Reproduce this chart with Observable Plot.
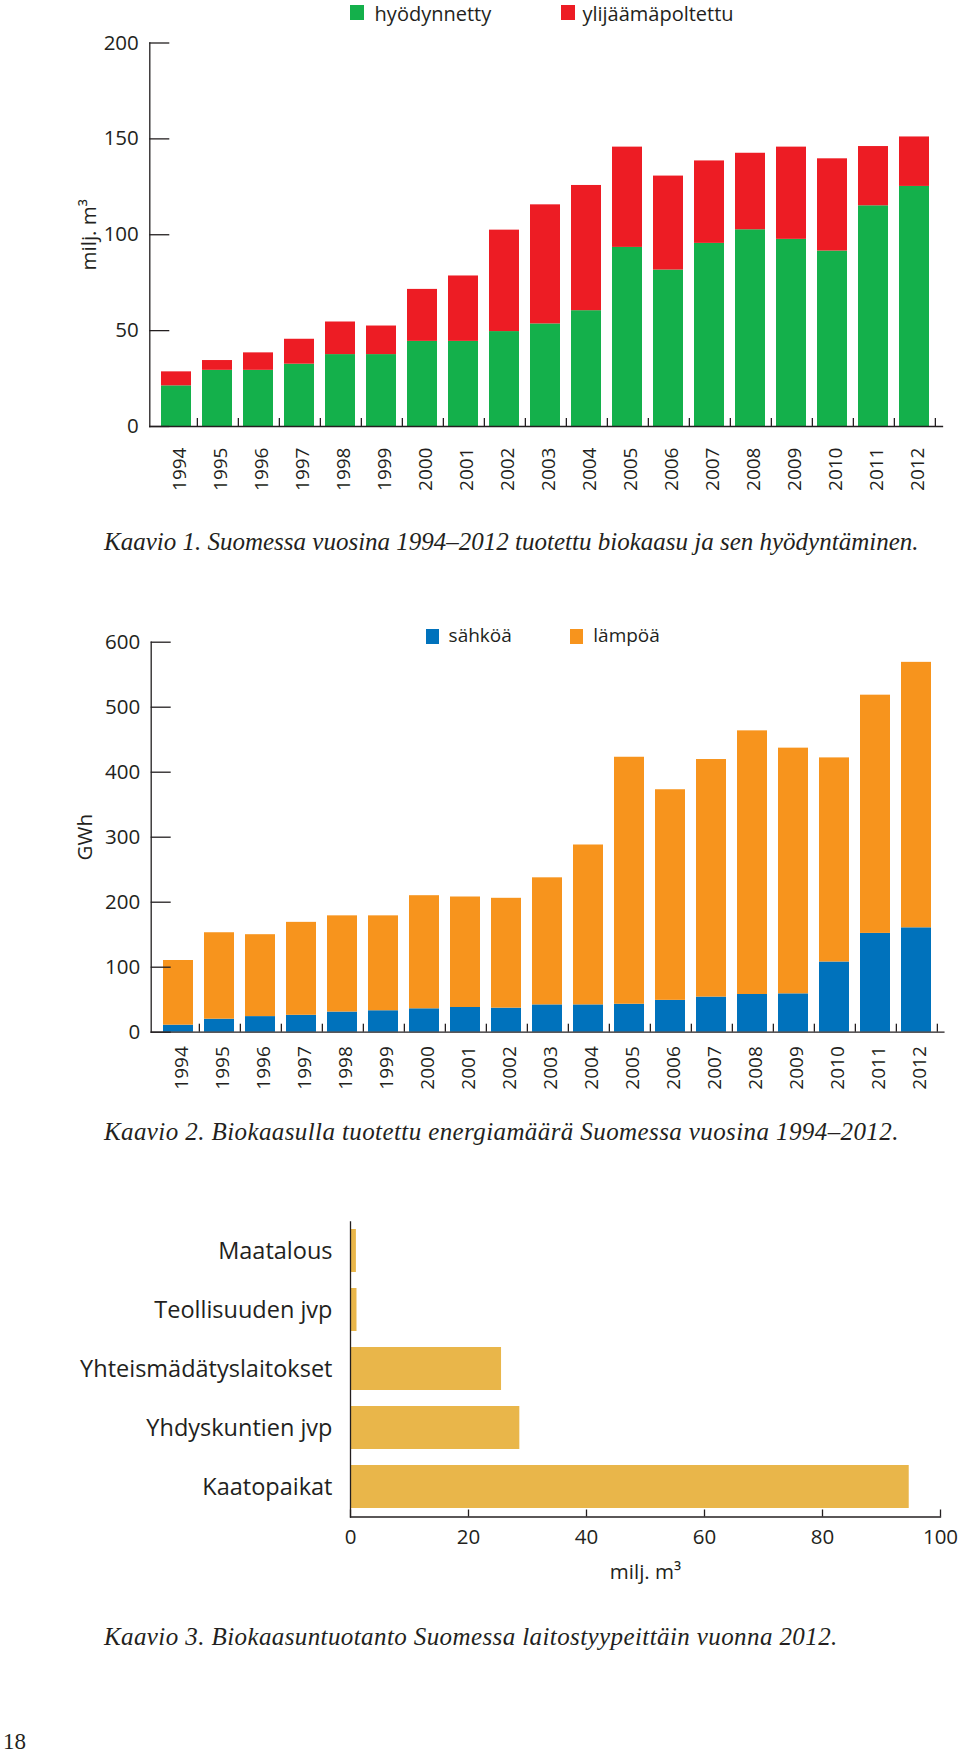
<!DOCTYPE html>
<html><head><meta charset="utf-8">
<script src="https://cdn.jsdelivr.net/npm/d3@7"></script>
<script src="https://cdn.jsdelivr.net/npm/@observablehq/plot@0.6"></script>
<style>
body{margin:0;background:#fff;}
#page{position:relative;width:960px;height:1753px;overflow:hidden;font-family:"Open Sans",sans-serif;color:#231f20;background:#fff;}
.lg{position:absolute;white-space:nowrap;line-height:0.9;}
.sw{position:absolute;}
.cap{position:absolute;left:104px;font-family:"Liberation Serif",serif;font-style:italic;font-size:25px;line-height:25px;white-space:nowrap;color:#231f20;}
#page svg{position:absolute;left:0;overflow:visible;}
</style></head><body><div id="page"></div>
<script>
// ---- data ----
const years = ["1994","1995","1996","1997","1998","1999","2000","2001","2002","2003","2004","2005","2006","2007","2008","2009","2010","2011","2012"];
// Kaavio 1 (milj. m3)
const series1 = ["hyödynnetty","ylijäämäpoltettu"];
const hyodynnetty = [21.2,29.3,29.3,32.5,37.5,37.5,44.4,44.4,49.5,53.5,60.4,93.4,81.6,95.5,102.6,97.6,91.5,115.1,125.2];
const ylijaamapoltettu = [7.3,5.1,9.1,13.0,17.0,14.9,27.1,34.1,52.9,62.1,65.3,52.3,49.0,43.0,39.9,48.1,48.1,30.9,25.8];
const colors1 = ["#14b04b","#ed1c24"];
const ticks1 = [0,50,100,150,200];
// Kaavio 2 (GWh)
const series2 = ["sähköä","lämpöä"];
const sahkoa = [10.8,20,24,26,31,33,36,38,37,42,42,43,49,54,58,59,108,152,160.6];
const lampoa = [99.5,133,126,143,148,146,174,170,169,195.5,246,380,324,365.5,405.6,378,314,366.5,408.4];
const colors2 = ["#0072bc","#f7941d"];
const ticks2 = [0,100,200,300,400,500,600];
// Kaavio 3 (milj. m3, 2012)
const plantTypes = ["Maatalous","Teollisuuden jvp","Yhteismädätyslaitokset","Yhdyskuntien jvp","Kaatopaikat"];
const plantProduction = [1.0,1.1,25.6,28.7,94.7];
const color3 = "#e9b64a";
const ticks3 = [0,20,40,60,80,100];
const unitM3 = "milj. m³";
const unitGWh = "GWh";
const captions = [
  "Kaavio 1. Suomessa vuosina 1994–2012 tuotettu biokaasu ja sen hyödyntäminen.",
  "Kaavio 2. Biokaasulla tuotettu energiamäärä Suomessa vuosina 1994–2012.",
  "Kaavio 3. Biokaasuntuotanto Suomessa laitostyypeittäin vuonna 2012."
];
const pageNumber = "18";

// ---- build tables ----
const d1 = [];
years.forEach((y,i)=>{ d1.push({year:y, series:series1[0], value:hyodynnetty[i]}); d1.push({year:y, series:series1[1], value:ylijaamapoltettu[i]}); });
const d2 = [];
years.forEach((y,i)=>{ d2.push({year:y, series:series2[0], value:sahkoa[i]}); d2.push({year:y, series:series2[1], value:lampoa[i]}); });
const d3rows = plantTypes.map((t,i)=>({type:t, value:plantProduction[i]}));

const ink = "#231f20";
const page = document.getElementById("page");

function place(el, top){ el.style.top = top + "px"; page.appendChild(el); }

function stackedChart(data, seriesNames, cols, yTicks, label, cfg){
  const half = (960 - cfg.ml - cfg.mr) / years.length / 2;
  return Plot.plot({
    width: 960, height: cfg.h,
    marginTop: cfg.mt, marginBottom: cfg.mb, marginLeft: cfg.ml, marginRight: cfg.mr,
    style: {fontFamily: "Open Sans", color: ink, background: "transparent"},
    x: {domain: years, paddingInner: 0.26, paddingOuter: 0.13, axis: null},
    y: {domain: [yTicks[0], yTicks[yTicks.length-1]], axis: null},
    color: {domain: seriesNames, range: cols},
    marks: [
      Plot.barY(data, {x: "year", y: "value", fill: "series"}),
      Plot.frame({anchor: "left", stroke: ink, strokeWidth: 1.3}),
      Plot.frame({anchor: "bottom", stroke: ink, strokeWidth: 1.3}),
      Plot.axisY({ticks: yTicks, tickSize: -20, tickPadding: 31, strokeWidth: 1.3, fontSize: 20.5, label: label, labelAnchor: "center", labelOffset: cfg.lo, labelArrow: "none"}),
      Plot.axisX({tickRotate: -90, tickSize: 0, tickPadding: cfg.tp, fontSize: 19, dx: 3, label: null}),
      Plot.axisX({tickSize: -8, tickFormat: () => "", dx: half, strokeWidth: 1.3, label: null})
    ]
  });
}

// Chart 1
const c1 = stackedChart(d1, series1, colors1, ticks1, unitM3, {h: 500, mt: 42.5, mb: 74, ml: 149.3, mr: 18, lo: 68, tp: 21});
place(c1, 0);
// Chart 2
const c2 = stackedChart(d2, series2, colors2, ticks2, unitGWh, {h: 530, mt: 61.7, mb: 78.3, ml: 150.7, mr: 16.6, lo: 74, tp: 14});
place(c2, 580);

// Chart 3
const c3 = Plot.plot({
  width: 960, height: 400,
  marginTop: 21.5, marginBottom: 83.5, marginLeft: 350, marginRight: 20,
  style: {fontFamily: "Open Sans", color: ink, background: "transparent"},
  x: {domain: [ticks3[0], ticks3[ticks3.length-1]], axis: null},
  y: {domain: plantTypes, paddingInner: 0.264, paddingOuter: 0.132, axis: null},
  marks: [
    Plot.barX(d3rows, {x: "value", y: "type", fill: color3}),
    Plot.frame({anchor: "left", stroke: ink, strokeWidth: 1.3}),
    Plot.frame({anchor: "bottom", stroke: ink, strokeWidth: 1.3}),
    Plot.axisY({tickSize: 0, tickPadding: 18, fontSize: 23.5, label: null}),
    Plot.axisX({ticks: ticks3, tickSize: -7, tickPadding: 19, strokeWidth: 1.3, fontSize: 20.5, label: unitM3, labelAnchor: "center", labelOffset: 62, labelArrow: "none"})
  ]
});
place(c3, 1200);

// Legends
function swatch(left, top, w, h, color){
  const d = document.createElement("div"); d.className = "sw";
  Object.assign(d.style, {left: left+"px", top: top+"px", width: w+"px", height: h+"px", background: color});
  page.appendChild(d);
}
function legendText(left, top, size, txt){
  const d = document.createElement("div"); d.className = "lg";
  Object.assign(d.style, {left: left+"px", top: top+"px", fontSize: size+"px"});
  d.textContent = txt; page.appendChild(d);
}
swatch(350, 5, 14, 15, colors1[0]); legendText(374.6, 5, 20, series1[0]);
swatch(560.6, 5, 14.4, 15, colors1[1]); legendText(582.4, 5, 20, series1[1]);
swatch(425.7, 629.3, 13.2, 14.4, colors2[0]); legendText(448.6, 627, 19, series2[0]);
swatch(570.3, 629.3, 13.2, 14.4, colors2[1]); legendText(593.3, 627, 19, series2[1]);

// Captions
[529, 1119, 1624].forEach((t,i)=>{
  const d = document.createElement("div"); d.className = "cap";
  d.style.top = t + "px"; d.textContent = captions[i];
  if (i > 0) d.style.letterSpacing = "0.4px";
  page.appendChild(d);
});
const pn = document.createElement("div"); pn.className = "cap";
Object.assign(pn.style, {left: "3px", top: "1730px", fontStyle: "normal", fontSize: "23px", lineHeight: "23px"});
pn.textContent = pageNumber; page.appendChild(pn);
</script>
</body></html>
